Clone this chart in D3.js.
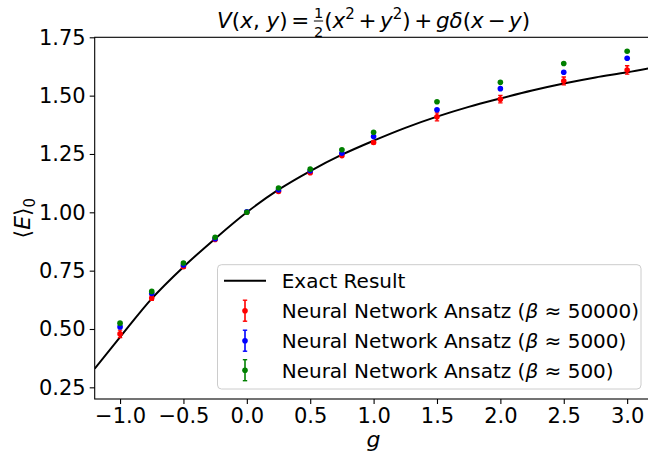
<!DOCTYPE html>
<html>
<head>
<meta charset="utf-8">
<script src="https://cdn.jsdelivr.net/npm/d3@7"></script>
<style>
    body { margin: 0; background: #fff; }
    svg text { font-family: "DejaVu Sans", sans-serif; fill: #000; }
</style>
</head>
<body>
<div id="chart"></div>
<script>

// values
var gValues = [-1, -0.75, -0.5, -0.25, 0, 0.25, 0.5, 0.75, 1, 1.5, 2, 2.5, 3];

var energyBeta50000 = [0.479, 0.633, 0.767, 0.884, 1.000, 1.089, 1.170, 1.243, 1.299, 1.409, 1.485, 1.563, 1.610];
var errorBeta50000  = [0.016, 0.010, 0.006, 0.004, 0.003, 0.004, 0.004, 0.005, 0.005, 0.017, 0.016, 0.017, 0.018];

var energyBeta5000 = [0.509, 0.652, 0.774, 0.887, 1.002, 1.096, 1.178, 1.253, 1.325, 1.439, 1.530, 1.600, 1.660];
var errorBeta5000  = [0.004, 0.003, 0.003, 0.002, 0.002, 0.002, 0.002, 0.003, 0.003, 0.003, 0.003, 0.003, 0.003];

var energyBeta500 = [0.525, 0.661, 0.783, 0.893, 1.000, 1.104, 1.185, 1.268, 1.343, 1.474, 1.557, 1.638, 1.690];
var errorBeta500  = [0.003, 0.003, 0.002, 0.002, 0.002, 0.002, 0.002, 0.002, 0.002, 0.002, 0.002, 0.002, 0.002];

var exactG      = [-1.2, -1.0, -0.75, -0.5, -0.25, 0, 0.25, 0.5, 0.75, 1.0, 1.25, 1.5, 1.75, 2.0, 2.25, 2.5, 2.75, 3.0, 3.2];
var exactEnergy = [0.330, 0.465, 0.630, 0.766, 0.887, 1.000, 1.097, 1.177, 1.247, 1.307, 1.362, 1.410, 1.452, 1.488, 1.522, 1.552, 1.578, 1.600, 1.620];

var xTicks = [-1.0, -0.5, 0.0, 0.5, 1.0, 1.5, 2.0, 2.5, 3.0];
var yTicks = [0.25, 0.50, 0.75, 1.00, 1.25, 1.50, 1.75];

var seriesLabels = [
    "Neural Network Ansatz (β ≈ 50000)",
    "Neural Network Ansatz (β ≈ 5000)",
    "Neural Network Ansatz (β ≈ 500)"
];

var W = 648, H = 457;
var box = { left: 94.7, right: 652.5, top: 37.3, bottom: 399 };

var svg = d3.select("#chart").append("svg")
    .attr("width", W)
    .attr("height", H);

var x = d3.scaleLinear().domain([-1.2, 3.2]).range([box.left, box.right]);
var y = d3.scaleLinear().domain([0.2, 1.75]).range([box.bottom, box.top]);

svg.append("clipPath").attr("id", "plot-clip")
    .append("rect")
        .attr("x", box.left)
        .attr("y", box.top)
        .attr("width", box.right - box.left)
        .attr("height", box.bottom - box.top);

var plot = svg.append("g").attr("clip-path", "url(#plot-clip)");

// exact curve
var line = d3.line()
    .x(function (d, i) { return x(exactG[i]); })
    .y(function (d) { return y(d); })
    .curve(d3.curveMonotoneX);

plot.append("path")
    .datum(exactEnergy)
    .attr("d", line)
    .attr("fill", "none")
    .attr("stroke", "#000")
    .attr("stroke-width", 2);

// error bar series, drawn red -> blue -> green
var series = [
    { color: "#ff0000", values: energyBeta50000, errors: errorBeta50000 },
    { color: "#0000ff", values: energyBeta5000, errors: errorBeta5000 },
    { color: "#008000", values: energyBeta500, errors: errorBeta500 }
];

series.forEach(function (s) {

    var g = plot.append("g");

    var pts = gValues.map(function (gv, i) {
        return { g: gv, v: s.values[i], e: s.errors[i] };
    });

    g.selectAll("line.bar").data(pts).enter().append("line")
        .attr("x1", function (d) { return x(d.g); })
        .attr("x2", function (d) { return x(d.g); })
        .attr("y1", function (d) { return y(d.v - d.e); })
        .attr("y2", function (d) { return y(d.v + d.e); })
        .attr("stroke", s.color)
        .attr("stroke-width", 1.6);

    [-1, 1].forEach(function (sign) {
        g.selectAll("line.cap" + sign).data(pts).enter().append("line")
            .attr("x1", function (d) { return x(d.g) - 2.2; })
            .attr("x2", function (d) { return x(d.g) + 2.2; })
            .attr("y1", function (d) { return y(d.v + sign * d.e); })
            .attr("y2", function (d) { return y(d.v + sign * d.e); })
            .attr("stroke", s.color)
            .attr("stroke-width", 1.4);
    });

    g.selectAll("circle").data(pts).enter().append("circle")
        .attr("cx", function (d) { return x(d.g); })
        .attr("cy", function (d) { return y(d.v); })
        .attr("r", 2.8)
        .attr("fill", s.color);
});

// axes
var xAxis = svg.append("g")
    .attr("transform", "translate(0," + box.bottom + ")")
    .call(d3.axisBottom(x).tickValues(xTicks).tickFormat(d3.format(".1f")).tickSize(5).tickPadding(4));

var yAxis = svg.append("g")
    .attr("transform", "translate(" + box.left + ",0)")
    .call(d3.axisLeft(y).tickValues(yTicks).tickFormat(d3.format(".2f")).tickSize(5).tickPadding(4));

[xAxis, yAxis].forEach(function (a) {
    a.select(".domain").remove();
    a.selectAll(".tick line").attr("stroke", "#000").attr("stroke-width", 1.1);
    a.selectAll(".tick text")
        .style("font-family", "DejaVu Sans")
        .style("font-size", "21px")
        .attr("fill", "#000");
});

svg.append("rect")
    .attr("x", box.left)
    .attr("y", box.top)
    .attr("width", box.right - box.left)
    .attr("height", box.bottom - box.top)
    .attr("fill", "none")
    .attr("stroke", "#000")
    .attr("stroke-width", 1.1);

// axis labels
svg.append("text")
    .attr("x", (box.left + box.right) / 2)
    .attr("y", 447)
    .attr("text-anchor", "middle")
    .style("font-size", "22px")
    .style("font-style", "italic")
    .text("g");

var ylab = svg.append("text")
    .attr("transform", "translate(30," + ((box.top + box.bottom) / 2) + ") rotate(-90)")
    .attr("text-anchor", "middle")
    .style("font-size", "22px");
ylab.append("tspan").text("⟨");
ylab.append("tspan").style("font-style", "italic").text("E");
ylab.append("tspan").text("⟩");
ylab.append("tspan").attr("dy", 5).style("font-size", "15px").text("0");

// title, laid out piece by piece (U+2006 gives the narrow math spacing)
var titleParts = [
    { t: "V", it: true }, { t: "(" }, { t: "x", it: true }, { t: ", " }, { t: "y", it: true }, { t: ")\u2006=\u2006" },
    { frac: ["1", "2"] },
    { t: "(" }, { t: "x", it: true }, { sup: "2" }, { t: "\u2006+\u2006" }, { t: "y", it: true }, { sup: "2" },
    { t: ")\u2006+\u2006" }, { t: "gδ", it: true }, { t: "(" }, { t: "x", it: true }, { t: "\u2006−\u2006" }, { t: "y", it: true }, { t: ")" }
];

var title = svg.append("g");
var tx = 0, fontSize = 21.5;

titleParts.forEach(function (p) {
    if (p.frac) {
        var num = title.append("text").attr("y", -10.5).style("font-size", "14.5px").text(p.frac[0]);
        var den = title.append("text").attr("y", 9).style("font-size", "14.5px").text(p.frac[1]);
        var w = Math.max(num.node().getComputedTextLength(), den.node().getComputedTextLength());
        num.attr("x", tx + 1 + w / 2).attr("text-anchor", "middle");
        den.attr("x", tx + 1 + w / 2).attr("text-anchor", "middle");
        title.append("line")
            .attr("x1", tx + 1).attr("x2", tx + 1 + w)
            .attr("y1", -7).attr("y2", -7)
            .attr("stroke", "#000").attr("stroke-width", 1);
        tx += w + 2;
    } else if (p.sup) {
        var s = title.append("text").attr("x", tx).attr("y", -9.5).style("font-size", "15px").text(p.sup);
        tx += s.node().getComputedTextLength();
    } else {
        var t = title.append("text")
            .attr("x", tx)
            .style("font-size", fontSize + "px")
            .style("font-style", p.it ? "italic" : null)
            .style("white-space", "pre")
            .text(p.t);
        tx += t.node().getComputedTextLength();
    }
});

title.attr("transform", "translate(" + ((box.left + box.right) / 2 - tx / 2) + ",28)");

// legend
var legend = svg.append("g");

legend.append("rect")
    .attr("x", 217.5)
    .attr("y", 264.7)
    .attr("width", 641 - 217.5)
    .attr("height", 389 - 264.7)
    .attr("rx", 4)
    .attr("fill", "#fff")
    .attr("fill-opacity", 0.8)
    .attr("stroke", "#cccccc")
    .attr("stroke-width", 1);

var rowY = [280.7, 310.7, 340.7, 370.2];

legend.append("line")
    .attr("x1", 224).attr("x2", 266)
    .attr("y1", rowY[0]).attr("y2", rowY[0])
    .attr("stroke", "#000").attr("stroke-width", 2);

legend.append("text")
    .attr("x", 281.7).attr("y", rowY[0] + 7.5)
    .style("font-size", "20px")
    .text("Exact Result");

series.forEach(function (s, i) {
    var cy = rowY[i + 1];
    legend.append("line")
        .attr("x1", 245).attr("x2", 245)
        .attr("y1", cy - 10.5).attr("y2", cy + 10.5)
        .attr("stroke", s.color).attr("stroke-width", 1.6);
    [-10.5, 10.5].forEach(function (dy) {
        legend.append("line")
            .attr("x1", 242.8).attr("x2", 247.2)
            .attr("y1", cy + dy).attr("y2", cy + dy)
            .attr("stroke", s.color).attr("stroke-width", 1.4);
    });
    legend.append("circle")
        .attr("cx", 245).attr("cy", cy).attr("r", 2.8)
        .attr("fill", s.color);

    var label = legend.append("text")
        .attr("x", 281.7).attr("y", cy + 7.5)
        .style("font-size", "20px")
        .style("white-space", "pre");
    var parts = seriesLabels[i].split("β");
    label.append("tspan").text(parts[0]);
    label.append("tspan").style("font-style", "italic").text("β");
    label.append("tspan").text(parts[1]);
});

</script>
</body>
</html>
